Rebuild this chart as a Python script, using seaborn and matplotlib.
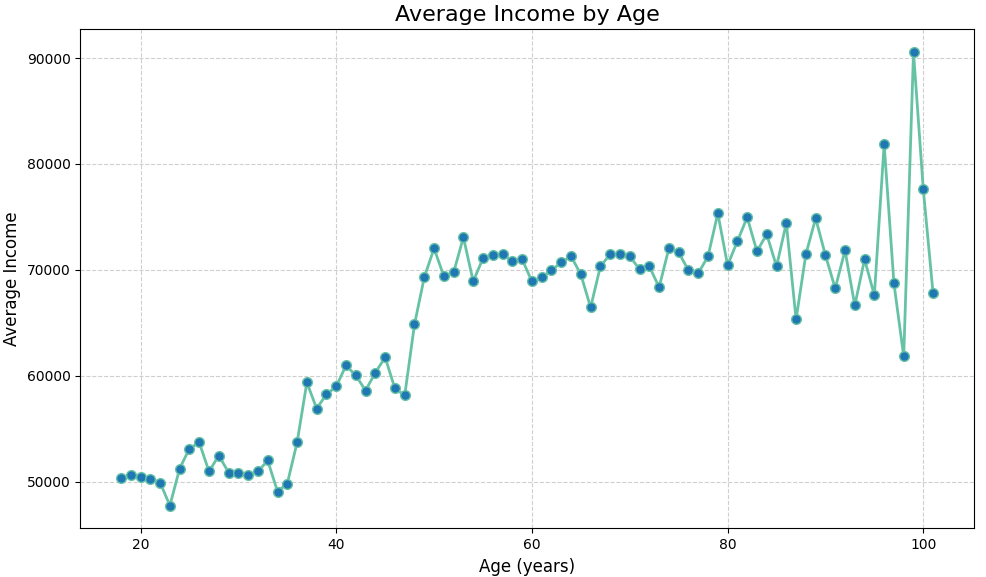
import seaborn as sns
import matplotlib.pyplot as plt
import pandas as pd

# Average income per age
ages = list(range(18, 102))
avg_income = [
    50300, 50660, 50470, 50280, 49900, 47730, 51230, 53120, 53690, 50950,
    52460, 50850, 50760, 50660, 50950, 51990, 49050, 49810, 53690, 59360,
    56900, 58230, 58980, 60970, 60020, 58600, 60300, 61730, 58790, 58130,
    64850, 69290, 72030, 69390, 69770, 73070, 68910, 71090, 71370, 71470,
    70800, 70990, 68910, 69290, 69950, 70710, 71280, 69570, 66450, 70330,
    71470, 71470, 71280, 70050, 70330, 68350, 72030, 71650, 69950, 69670,
    71280, 75340, 70430, 72700, 74960, 71750, 73360, 70330, 74400, 65320,
    71470, 74870, 71370, 68250, 71840, 66640, 70990, 67590, 81870, 68720,
    61820, 90570, 77610, 67780,
]

df = pd.DataFrame({'age': ages, 'income': avg_income})

fig, ax = plt.subplots(figsize=(9.86, 5.77), dpi=100)
sns.lineplot(
    data=df, x='age', y='income', ax=ax,
    color='#66c2a5', linewidth=2,
    marker='o', markersize=7,
    markerfacecolor='#1f77b4', markeredgecolor='#66c2a5', markeredgewidth=1,
)
ax.set_title('Average Income by Age', fontsize=16)
ax.set_xlabel('Age (years)', fontsize=12)
ax.set_ylabel('Average Income', fontsize=12)
ax.grid(True, linestyle='--', alpha=0.6)
fig.subplots_adjust(left=0.0815, right=0.9875, top=0.949, bottom=0.0845)
plt.savefig('out.png')
